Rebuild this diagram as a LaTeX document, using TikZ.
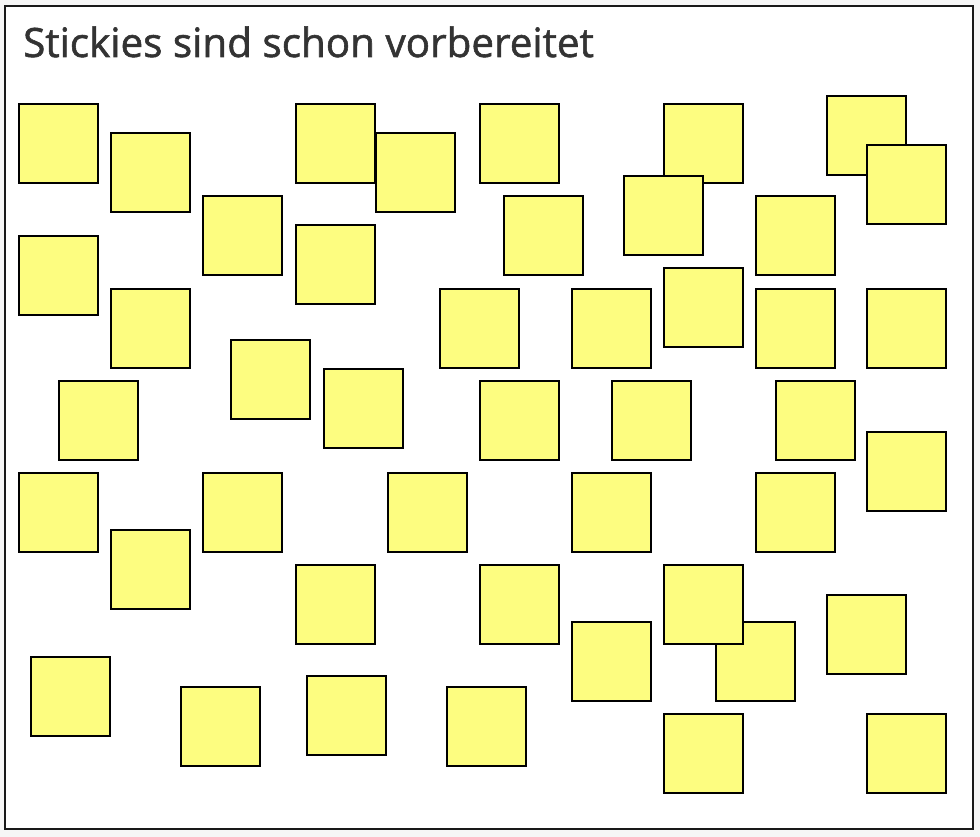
\documentclass[tikz,border=0pt]{standalone}
\usepackage{fontspec}
\setmainfont{Open Sans}
\newfontfamily\titlefont{Open Sans}[FakeBold=1.4]
\definecolor{stickyfill}{HTML}{FDFD80}
\definecolor{titlegray}{HTML}{333333}
\definecolor{pagebg}{HTML}{F6F6F6}
\tikzset{
  sticky/.style={draw=black, fill=stickyfill, line width=1.5pt, minimum width=79pt, minimum height=79pt, inner sep=0pt, outer sep=0pt, anchor=north west},
  frame/.style={draw=black!90, fill=white, line width=1.5pt},
  titletext/.style={text=titlegray, font=\titlefont\fontsize{40.4}{46}\selectfont, anchor=base west, inner sep=0pt}
}
\begin{document}
\begin{tikzpicture}[x=1pt,y=-1pt]
\useasboundingbox (0,0) rectangle (980,837);
\fill[pagebg] (0,0) rectangle (980,837);
\draw[frame] (5,6) rectangle (973,829);
\node[titletext] (title) at (23,57) {Stickies sind schon vorbereitet};
\node[sticky] (s1) at (19,104) {};
\node[sticky] (s2) at (111,133) {};
\node[sticky] (s3) at (203,196) {};
\node[sticky] (s4) at (296,104) {};
\node[sticky] (s5) at (376,133) {};
\node[sticky] (s6) at (480,104) {};
\node[sticky] (s7) at (664,104) {};
\node[sticky] (s8) at (624,176) {};
\node[sticky] (s9) at (827,96) {};
\node[sticky] (s10) at (867,145) {};
\node[sticky] (s11) at (504,196) {};
\node[sticky] (s12) at (756,196) {};
\node[sticky] (s13) at (19,236) {};
\node[sticky] (s14) at (296,225) {};
\node[sticky] (s15) at (111,289) {};
\node[sticky] (s16) at (440,289) {};
\node[sticky] (s17) at (572,289) {};
\node[sticky] (s18) at (664,268) {};
\node[sticky] (s19) at (756,289) {};
\node[sticky] (s20) at (867,289) {};
\node[sticky] (s21) at (231,340) {};
\node[sticky] (s22) at (324,369) {};
\node[sticky] (s23) at (59,381) {};
\node[sticky] (s24) at (480,381) {};
\node[sticky] (s25) at (612,381) {};
\node[sticky] (s26) at (776,381) {};
\node[sticky] (s27) at (867,432) {};
\node[sticky] (s28) at (19,473) {};
\node[sticky] (s29) at (203,473) {};
\node[sticky] (s30) at (388,473) {};
\node[sticky] (s31) at (572,473) {};
\node[sticky] (s32) at (756,473) {};
\node[sticky] (s33) at (111,530) {};
\node[sticky] (s34) at (296,565) {};
\node[sticky] (s35) at (480,565) {};
\node[sticky] (s36) at (716,622) {};
\node[sticky] (s37) at (664,565) {};
\node[sticky] (s38) at (572,622) {};
\node[sticky] (s39) at (827,595) {};
\node[sticky] (s40) at (31,657) {};
\node[sticky] (s41) at (181,687) {};
\node[sticky] (s42) at (307,676) {};
\node[sticky] (s43) at (447,687) {};
\node[sticky] (s44) at (664,714) {};
\node[sticky] (s45) at (867,714) {};
\end{tikzpicture}
\end{document}
